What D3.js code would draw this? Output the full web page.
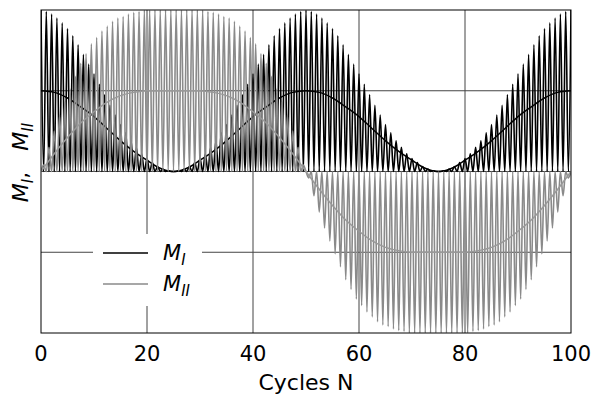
<!DOCTYPE html>
<html>
<head>
<meta charset="utf-8">
<script src="https://cdn.jsdelivr.net/npm/d3@7"></script>
<style>
  body { margin: 0; background: #fff; }
  text { font-family: "DejaVu Sans", sans-serif; }
</style>
</head>
<body>
<div id="chart"></div>
<script>
// peak of M_I in each cycle, N = 0..100 (troughs are 0 at N + 0.5)
var peaksI = [
  1, .99, .975, .95, .92, .885, .84, .785, .725, .665, .605, .54, .475, .41, .35, .29, .24, .19, .15, .11, .08, .055, .03, .015, .005, 0,
  .005, .015, .03, .055, .08, .11, .15, .19, .24, .29, .35, .41, .475, .54, .605, .665, .725, .785, .84, .885, .92, .95, .975, .99, 1,
  .99, .975, .95, .92, .885, .84, .785, .725, .665, .605, .54, .475, .41, .35, .29, .24, .19, .15, .11, .08, .055, .03, .015, .005, 0,
  .005, .015, .03, .055, .08, .11, .15, .19, .24, .29, .35, .41, .475, .54, .605, .665, .725, .785, .84, .885, .92, .95, .975, .99, 1
];

// peak of M_II in each cycle, N = 0.5..99.5 (troughs are 0 at whole N)
var peaksII = [
  .04, .15, .25, .35, .43, .51, .59, .67, .73, .79, .83, .87, .90, .93, .95, .96, .975, .985, .99, 1, 1, 1, 1, 1, 1,
  1, 1, 1, 1, 1, 1, .99, .985, .975, .96, .95, .93, .90, .87, .83, .79, .73, .67, .59, .51, .43, .35, .25, .15, .04,
  -.04, -.15, -.25, -.35, -.43, -.51, -.59, -.67, -.73, -.79, -.83, -.87, -.90, -.93, -.95, -.96, -.975, -.985, -.99, -1, -1, -1, -1, -1, -1,
  -1, -1, -1, -1, -1, -1, -.99, -.985, -.975, -.96, -.95, -.93, -.90, -.87, -.83, -.79, -.73, -.67, -.59, -.51, -.43, -.35, -.25, -.15, -.04
];
var trough = 0;

// slow (cycle averaged) curves, sampled every 2.5 cycles
var smoothN = [0, 2.5, 5, 7.5, 10, 12.5, 15, 17.5, 20, 22.5, 25, 27.5, 30, 32.5, 35, 37.5, 40, 42.5, 45, 47.5, 50,
  52.5, 55, 57.5, 60, 62.5, 65, 67.5, 70, 72.5, 75, 77.5, 80, 82.5, 85, 87.5, 90, 92.5, 95, 97.5, 100];
var smoothI = [.5, .49, .455, .40, .34, .265, .19, .125, .07, .02, 0, .02, .07, .125, .19, .265, .34, .40, .455, .49, .5,
  .49, .455, .40, .34, .265, .19, .125, .07, .02, 0, .02, .07, .125, .19, .265, .34, .40, .455, .49, .5];
var smoothII = [0, .11, .21, .30, .37, .43, .47, .49, .50, .50, .50, .50, .50, .49, .47, .43, .37, .30, .21, .11, 0,
  -.11, -.21, -.30, -.37, -.43, -.47, -.49, -.50, -.50, -.50, -.50, -.50, -.49, -.47, -.43, -.37, -.30, -.21, -.11, 0];

var xTicks = [0, 20, 40, 60, 80, 100];
var yGrid = [-0.5, 0, 0.5];

var W = 595, H = 397;
var margin = { top: 10, left: 41, right: 24, bottom: 64 },
  width = W - margin.left - margin.right,
  height = H - margin.top - margin.bottom;

var svg = d3.select("#chart")
  .append("svg")
  .attr("width", W)
  .attr("height", H)
  .append("g")
  .attr("transform", "translate(" + margin.left + "," + margin.top + ")");

var x = d3.scaleLinear().domain([0, 100]).range([0, width]);
var y = d3.scaleLinear().domain([-1, 1]).range([height, 0]);

svg.append("clipPath").attr("id", "clip")
  .append("rect").attr("width", width).attr("height", height);

// grid
svg.selectAll(".vgrid")
  .data(xTicks.slice(1, -1))
  .enter().append("line")
  .attr("x1", function(d) { return x(d) }).attr("x2", function(d) { return x(d) })
  .attr("y1", 0).attr("y2", height)
  .attr("stroke", "#444").attr("stroke-width", 1);
svg.selectAll(".hgrid")
  .data(yGrid)
  .enter().append("line")
  .attr("x1", 0).attr("x2", width)
  .attr("y1", function(d) { return y(d) }).attr("y2", function(d) { return y(d) })
  .attr("stroke", "#444").attr("stroke-width", 1);

var ptsI = [];
peaksI.forEach(function(p, i) {
  ptsI.push([i, p]);
  if (i < peaksI.length - 1) ptsI.push([i + 0.5, trough]);
});
var ptsII = [[0, trough]];
peaksII.forEach(function(p, i) {
  ptsII.push([i + 0.5, p]);
  ptsII.push([i + 1, trough]);
});

var line = d3.line()
  .x(function(d) { return x(d[0]) })
  .y(function(d) { return y(d[1]) })
  .curve(d3.curveMonotoneX);

var plot = svg.append("g").attr("clip-path", "url(#clip)");

plot.append("path").datum(ptsI)
  .attr("d", line).attr("fill", "none")
  .attr("stroke", "#000").attr("stroke-width", 1.6);

plot.append("path").datum(smoothN.map(function(n, i) { return [n, smoothI[i]] }))
  .attr("d", line).attr("fill", "none")
  .attr("stroke", "#000").attr("stroke-width", 1.5);

plot.append("path").datum(ptsII)
  .attr("d", line).attr("fill", "none")
  .attr("stroke", "#8a8a8a").attr("stroke-width", 1.6);

plot.append("path").datum(smoothN.map(function(n, i) { return [n, smoothII[i]] }))
  .attr("d", line).attr("fill", "none")
  .attr("stroke", "#999").attr("stroke-width", 1.5);

// frame
svg.append("rect")
  .attr("width", width).attr("height", height)
  .attr("fill", "none").attr("stroke", "#000").attr("stroke-width", 1);

// x axis labels
svg.selectAll(".xlab")
  .data(xTicks)
  .enter().append("text")
  .attr("x", function(d) { return x(d) })
  .attr("y", height + 28)
  .attr("text-anchor", "middle")
  .attr("font-size", 21)
  .text(function(d) { return d });

svg.append("text")
  .attr("x", width / 2)
  .attr("y", height + 57)
  .attr("text-anchor", "middle")
  .attr("font-size", 22)
  .text("Cycles N");

// y label
var yl = svg.append("text")
  .attr("text-anchor", "middle")
  .attr("font-size", 22)
  .attr("transform", "translate(-13," + (height / 2 - 9) + ")rotate(-90)");
yl.append("tspan").attr("font-style", "italic").text("M");
yl.append("tspan").attr("font-style", "italic").attr("font-size", 15).attr("dy", 5).text("I");
yl.append("tspan").attr("dy", -5).text(",\u00a0\u00a0\u00a0");
yl.append("tspan").attr("font-style", "italic").text("M");
yl.append("tspan").attr("font-style", "italic").attr("font-size", 15).attr("dy", 5).text("II");

// legend
var lg = svg.append("g").attr("transform", "translate(52,224)");
lg.append("rect").attr("width", 109).attr("height", 72).attr("fill", "#fff");
var entries = [["I", "#000"], ["II", "#8a8a8a"]];
entries.forEach(function(e, i) {
  var yy = 19 + i * 31;
  lg.append("line")
    .attr("x1", 10).attr("x2", 55).attr("y1", yy).attr("y2", yy)
    .attr("stroke", e[1]).attr("stroke-width", 1.5);
  var t = lg.append("text").attr("x", 70).attr("y", yy + 7).attr("font-size", 21);
  t.append("tspan").attr("font-style", "italic").text("M");
  t.append("tspan").attr("font-style", "italic").attr("font-size", 15).attr("dy", 5).text(e[0]);
});
</script>
</body>
</html>
